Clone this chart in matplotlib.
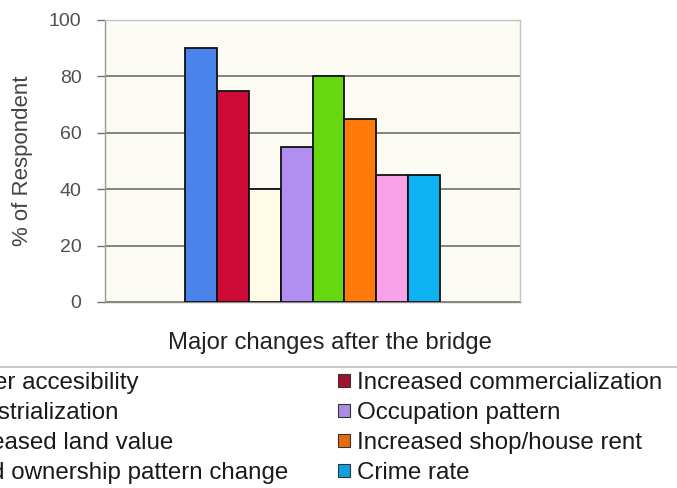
import matplotlib.pyplot as plt
from matplotlib.patches import Patch
from matplotlib.lines import Line2D

plt.rcParams['font.family'] = ['Liberation Sans', 'DejaVu Sans']

# Survey results: share of respondents reporting each change
changes = [
    "Better accesibility",
    "Increased commercialization",
    "Industrialization",
    "Occupation pattern",
    "Increased land value",
    "Increased shop/house rent",
    "Land ownership pattern change",
    "Crime rate",
]
respondents = [90, 75, 40, 55, 80, 65, 45, 45]
colors = ["#4a84ea", "#cc0a34", "#fffbe6", "#b28ef0",
          "#66d812", "#ff7a08", "#f8a2ea", "#0cb2f2"]
legend_colors = ["#3a6fd0", "#a0122e", "#f4efd8", "#a88ee0",
                 "#5cc010", "#e86a10", "#e898dc", "#10a0e0"]
y_ticks = [0, 20, 40, 60, 80, 100]

fig = plt.figure(figsize=(6.77, 4.88), dpi=100)
ax = fig.add_axes([105 / 677, 1 - 302 / 488, 415 / 677, 282 / 488])
ax.set_facecolor("#fbfbf4")

n = len(respondents)
xpos = [i - (n - 1) / 2 for i in range(n)]
ax.bar(xpos, respondents, width=1.0, color=colors, edgecolor="#111111",
       linewidth=1.3, zorder=3)

ax.set_xlim(-6.49, 6.49)
ax.set_ylim(0, 100)
ax.set_yticks(y_ticks)
ax.set_xticks([])
ax.yaxis.grid(True, color="#6e6e6e", linewidth=1.2, zorder=0)
ax.tick_params(axis="y", length=6, width=1.0, color="#6e6e6e",
               labelsize=14, labelcolor="#505050", pad=11)
for s in ax.spines.values():
    s.set_color("#c4c4c4")
    s.set_linewidth(1.0)
ax.spines["left"].set_color("#9a9a9a")
ax.spines["bottom"].set_color("#8a8a8a")

ax.set_ylabel("% of Respondent", fontsize=16, color="#444444")
ax.yaxis.set_label_coords((33 - 105) / 415, 0.5)
ax.set_xlabel("Major changes after the bridge", fontsize=17.2,
              color="#222222")
ax.xaxis.set_label_coords((330 - 105) / 415, -(343 - 302) / 282)
ax.xaxis.label.set_verticalalignment("center")

# rule above the legend block
fig.add_artist(Line2D([0, 1], [1 - 367 / 488] * 2, transform=fig.transFigure,
                      color="#bdbdbd", linewidth=1.2))

handles = [Patch(facecolor=c, edgecolor="#333333", linewidth=0.8)
           for c in legend_colors]

leg_kw = dict(frameon=False, fontsize=17.4, handlelength=0.5, handleheight=0.42,
              handletextpad=0.3, labelspacing=0.33, borderpad=0,
              borderaxespad=0, loc="upper left", labelcolor="#1a1a1a")

left = fig.legend(handles[0::2], changes[0::2],
                  bbox_to_anchor=(-68 / 677, 1 - 372 / 488), **leg_kw)
right = fig.legend(handles[1::2], changes[1::2],
                   bbox_to_anchor=(338 / 677, 1 - 372 / 488), **leg_kw)

fig.savefig("out.png", dpi=100)
